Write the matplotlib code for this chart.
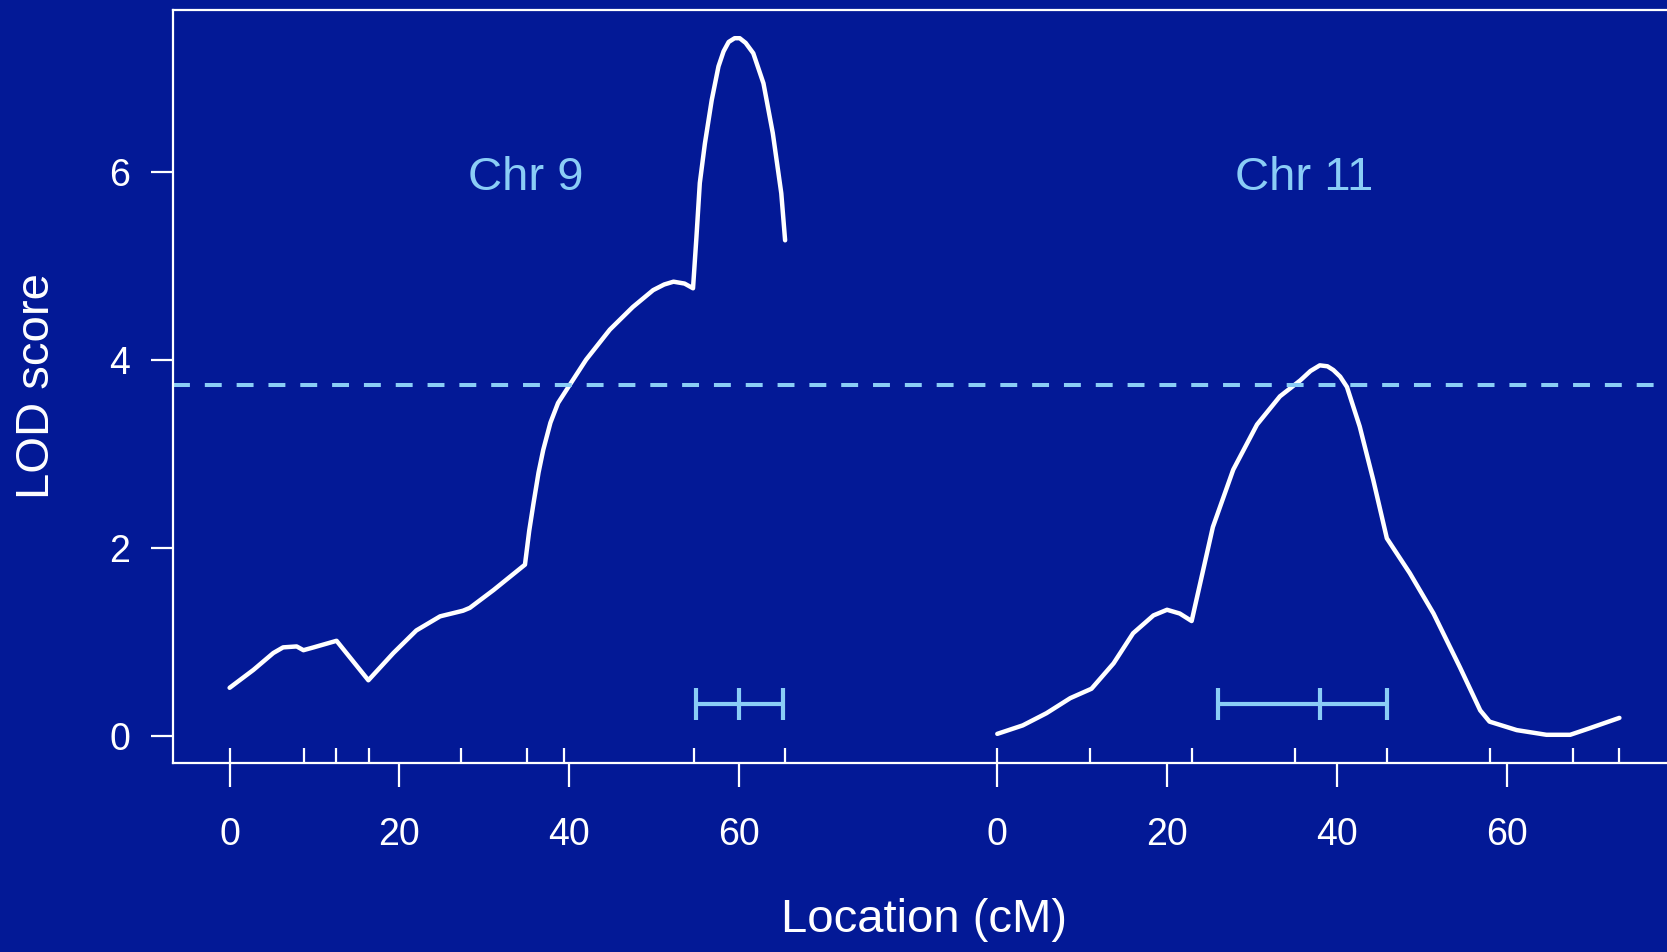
import matplotlib
matplotlib.use("Agg")
import matplotlib.pyplot as plt
import numpy as np

plt.rcParams['font.family'] = ['Liberation Sans', 'DejaVu Sans']

# ---- data ----
chr_names = ["Chr 9", "Chr 11"]
chr9_pos = [0.0, 2.8, 5.15, 6.3, 7.9, 8.7, 9.9, 12.6, 16.35, 19.3, 22.0, 24.8, 27.5, 28.3,
            31.1, 34.8, 35.3, 35.8, 36.4, 36.95, 37.8, 38.7, 39.7, 42.0, 44.8, 47.5, 49.9,
            51.2, 52.3, 53.6, 54.6, 55.0, 55.4, 56.0, 56.8, 57.6, 58.2, 58.8, 59.5, 60.1,
            60.8, 61.7, 62.9, 64.0, 65.0, 65.45]
chr9_lod = [0.51, 0.70, 0.88, 0.94, 0.95, 0.91, 0.94, 1.01, 0.59, 0.88, 1.12, 1.27, 1.33, 1.36,
            1.55, 1.82, 2.18, 2.47, 2.80, 3.04, 3.33, 3.54, 3.68, 4.00, 4.32, 4.56, 4.74,
            4.80, 4.83, 4.81, 4.76, 5.30, 5.88, 6.30, 6.76, 7.12, 7.28, 7.38, 7.42, 7.42,
            7.37, 7.26, 6.94, 6.41, 5.77, 5.27]
chr11_pos = [0.0, 3.0, 5.8, 8.6, 11.1, 13.7, 16.0, 18.4, 20.0, 21.5, 22.9, 23.9, 25.4, 27.8,
             30.6, 33.3, 35.7, 36.9, 38.0, 38.9, 39.6, 40.4, 41.2, 42.7, 44.3, 45.9, 48.6,
             51.4, 54.5, 56.9, 58.0, 61.2, 64.7, 67.5, 69.8, 73.3]
chr11_lod = [0.02, 0.11, 0.24, 0.40, 0.50, 0.77, 1.09, 1.28, 1.34, 1.30, 1.22, 1.62, 2.22, 2.83,
             3.31, 3.61, 3.78, 3.88, 3.94, 3.93, 3.89, 3.82, 3.71, 3.29, 2.72, 2.10, 1.73,
             1.30, 0.73, 0.27, 0.15, 0.06, 0.01, 0.01, 0.08, 0.19]
chr9_markers = [0, 8.74, 12.58, 16.42, 27.26, 35.0, 39.42, 54.68, 65.45]
chr11_markers = [0, 10.94, 22.96, 35.04, 45.93, 58.0, 67.8, 73.3]
chr9_ci = [55.0, 60.0, 65.2]     # lower, peak, upper
chr11_ci = [26.0, 38.0, 45.9]
threshold = 3.73
major_ticks = [0, 20, 40, 60]
y_ticks = [0, 2, 4, 6]
gap = 25.0

# ---- style ----
BG = '#031996'
LB = '#8acdf6'
W = 'white'

fig = plt.figure(figsize=(16.67, 9.52), dpi=100)
fig.patch.set_facecolor(BG)
ax = fig.add_axes([173/1667, (952-763)/952, 1502/1667, 753/952])
ax.set_facecolor(BG)

off11 = chr9_markers[-1] + gap
offsets = [0.0, off11]

ax.plot(chr9_pos, chr9_lod, color=W, lw=3.2, solid_joinstyle='round', solid_capstyle='round')
ax.plot(np.array(chr11_pos) + off11, chr11_lod, color=W, lw=3.2,
        solid_joinstyle='round', solid_capstyle='round')

ax.axhline(threshold, color=LB, lw=2.9, linestyle=(0, (4.2, 3.7)), dash_capstyle='butt')

bar_y = 0.34
cap = 0.17
for ci, off in zip([chr9_ci, chr11_ci], offsets):
    ax.plot([ci[0] + off, ci[2] + off], [bar_y, bar_y], color=LB, lw=3.0, solid_capstyle='butt')
    ax.vlines([c + off for c in ci], bar_y - cap, bar_y + cap, color=LB, lw=3.0)

ax.text(34.85, 5.81, chr_names[0], color=LB, fontsize=34, ha='center', va='baseline')
ax.text(36.2 + off11, 5.81, chr_names[1], color=LB, fontsize=34, ha='center', va='baseline')

ax.set_xlim(-6.67, 170.3)
ax.set_ylim(-0.29, 7.72)

# ticks
maj = [t for t in major_ticks] + [t + off11 for t in major_ticks]
ax.set_xticks(maj)
ax.set_xticklabels([str(t) for t in major_ticks] * 2)
ax.set_xticks(list(chr9_markers) + [m + off11 for m in chr11_markers], minor=True)
ax.xaxis.remove_overlapping_locs = False
ax.tick_params(axis='x', which='major', direction='out', length=17, width=1.6, color=W,
               labelcolor=W, labelsize=27, pad=22)
ax.tick_params(axis='x', which='minor', direction='in', length=11, width=1.6, color=W)
ax.set_yticks(y_ticks)
ax.set_yticklabels([str(t) for t in y_ticks])
ax.tick_params(axis='y', which='major', direction='out', length=16, width=1.6, color=W,
               labelcolor=W, labelsize=27, pad=15)

for s in ['left', 'bottom', 'top', 'right']:
    ax.spines[s].set_color(W)
    ax.spines[s].set_linewidth(1.6)

fig.text(924/1667, (952-932)/952, "Location (cM)", color=W, fontsize=34,
         ha='center', va='baseline')
fig.text(37/1667, 1 - 386/952, "LOD score", color=W, fontsize=34,
         ha='center', va='center', rotation=90)

fig.savefig('out.png', dpi=100, facecolor=BG)
